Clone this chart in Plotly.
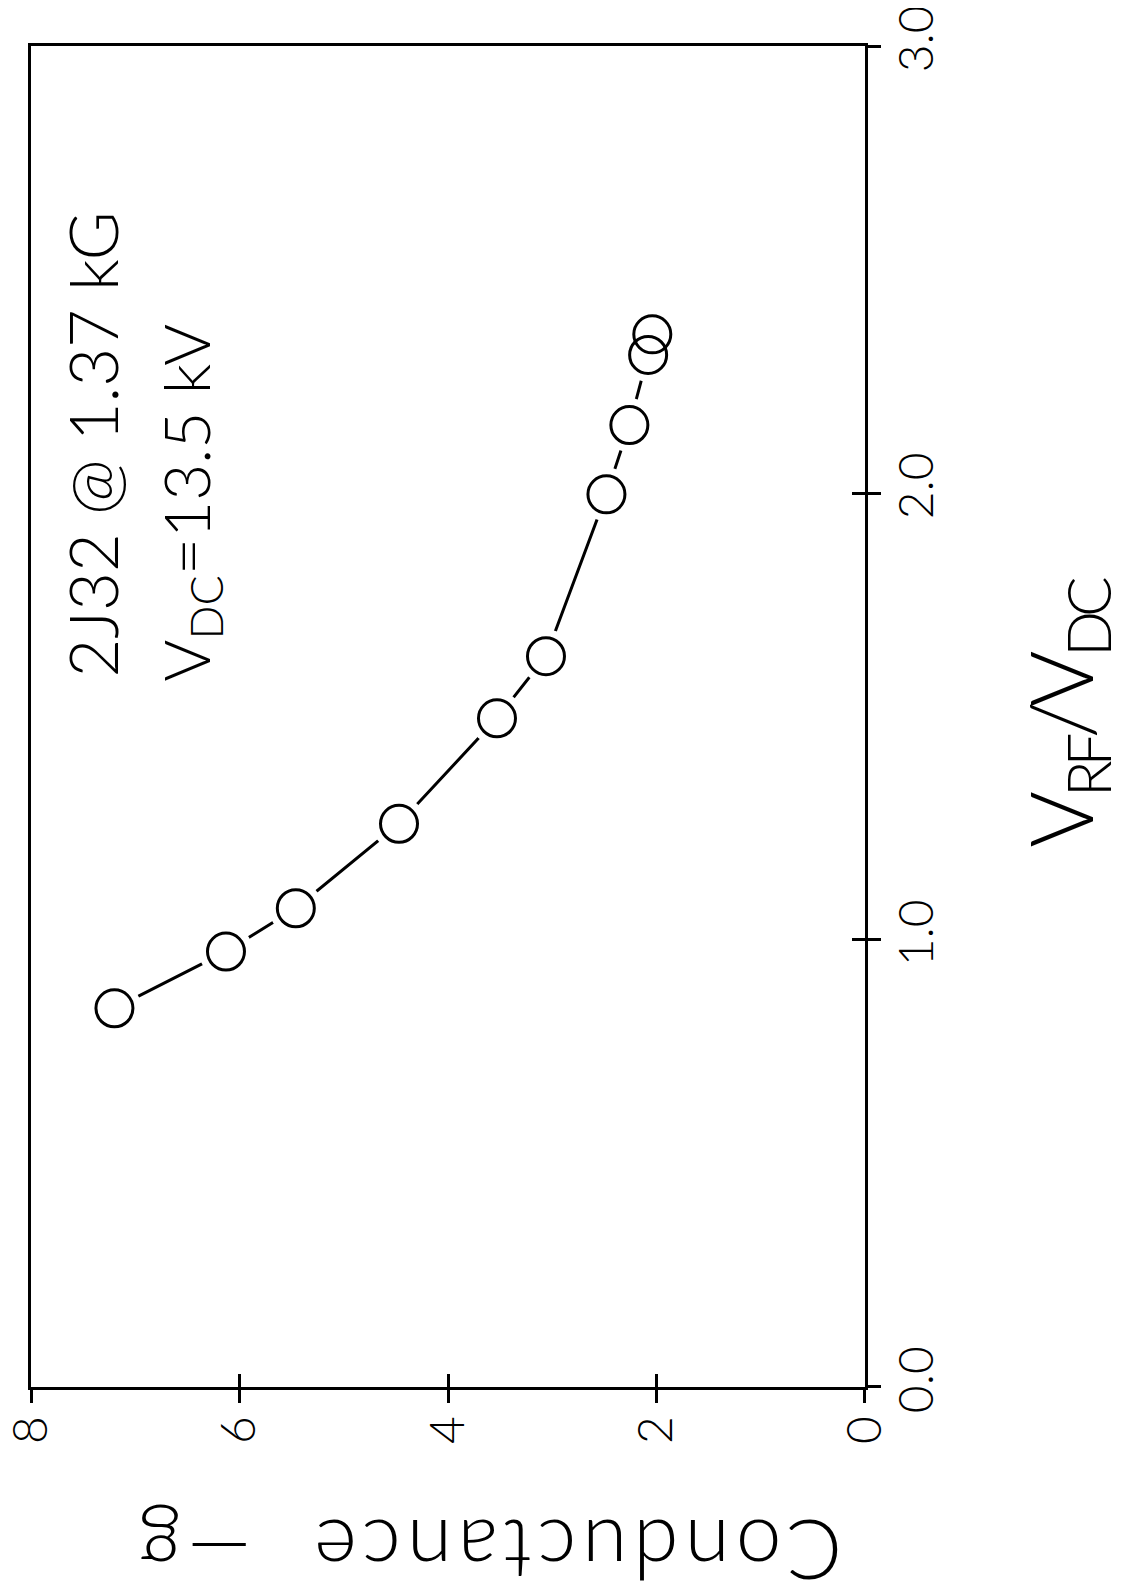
import plotly.graph_objects as go

# Data (original plot: x = V_RF/V_DC, y = conductance -g); figure is rotated 90° CCW
conductance = [7.20, 6.13, 5.46, 4.47, 3.53, 3.06, 2.48, 2.26, 2.08, 2.04]
v_ratio = [0.847, 0.974, 1.071, 1.260, 1.496, 1.635, 1.997, 2.152, 2.309, 2.355]
g_ticks = [0, 2, 4, 6, 8]
v_ticks = [0.0, 1.0, 2.0, 3.0]

FONT = "Lato"
OFF = 8  # default page body margin
W, H = 1137 - OFF, 1593 - OFF
L, T = 31 - OFF, 46 - OFF
PW, PH = 834, 1341
R, B = W - L - PW, H - T - PH

fig = go.Figure()
# connecting line with white masks around each point (gives gaps at the circles)
fig.add_trace(go.Scatter(x=conductance, y=v_ratio, mode="lines+markers",
                         line=dict(color="black", width=3),
                         marker=dict(symbol="circle", size=54, color="white",
                                     line=dict(width=0)),
                         hoverinfo="skip", showlegend=False))
fig.add_trace(go.Scatter(x=conductance, y=v_ratio, mode="markers",
                         marker=dict(symbol="circle-open", size=37, color="black",
                                     line=dict(width=3, color="black")),
                         showlegend=False))
# invisible trace for overlay axes (inside half of crossing ticks)
fig.add_trace(go.Scatter(x=conductance, y=v_ratio, mode="markers", xaxis="x2", yaxis="y2",
                         marker=dict(opacity=0), hoverinfo="skip", showlegend=False))

tickfont = dict(family=FONT, size=48, color="black", weight=300)
G_RANGE = [8.0005, -0.0005]
V_RANGE = [-0.0002, 3.0002]
fig.update_layout(
    width=W, height=H,
    margin=dict(l=L, r=R, t=T, b=B),
    paper_bgcolor="white", plot_bgcolor="white",
    xaxis=dict(range=G_RANGE, tickvals=g_ticks, ticktext=[str(v) for v in g_ticks],
               ticks="outside", ticklen=13, tickwidth=3, tickcolor="black",
               tickangle=-90, tickfont=tickfont, ticklabelstandoff=-6,
               ticklabeloverflow="allow",
               showline=True, linewidth=3, linecolor="black", mirror=True,
               showgrid=False, zeroline=False, automargin=False),
    yaxis=dict(range=V_RANGE, side="right", tickvals=v_ticks,
               ticktext=[f"{v:.1f}" for v in v_ticks],
               ticks="outside", ticklen=13, tickwidth=3, tickcolor="black",
               tickangle=-90, tickfont=tickfont, ticklabelstandoff=-6,
               ticklabeloverflow="allow",
               showline=True, linewidth=3, linecolor="black", mirror=True,
               showgrid=False, zeroline=False, automargin=False),
    xaxis2=dict(range=G_RANGE, overlaying="x", anchor="y2", side="bottom",
                tickvals=g_ticks, ticks="inside", ticklen=13, tickwidth=3,
                tickcolor="black", showticklabels=False, showline=False,
                showgrid=False, zeroline=False, automargin=False),
    yaxis2=dict(range=V_RANGE, overlaying="y", anchor="x2", side="right",
                tickvals=v_ticks, ticks="inside", ticklen=13, tickwidth=3,
                tickcolor="black", showticklabels=False, showline=False,
                showgrid=False, zeroline=False, automargin=False),
    showlegend=False,
)

def ann(text, x, y, size, angle):
    fig.add_annotation(text=text, x=x, y=y, xref="paper", yref="paper",
                       xanchor="center", yanchor="middle", showarrow=False,
                       textangle=angle,
                       font=dict(family=FONT, size=size, color="black", weight=300))

ann("2J32 @ 1.37 kG", 0.0735, 0.703, 67, -90)
ann("V<sub>DC</sub>=13.5 kV", 0.190, 0.660, 64, -90)
ann("<span style='letter-spacing:6px'>Conductance&nbsp;&nbsp;—g</span>",
    0.548, -0.123, 82, 180)
ann("<span style='letter-spacing:-6px'>V<sub>RF</sub>/V<sub>DC</sub></span>",
    1.241, 0.503, 86, -90)

fig.write_html("out.html")
